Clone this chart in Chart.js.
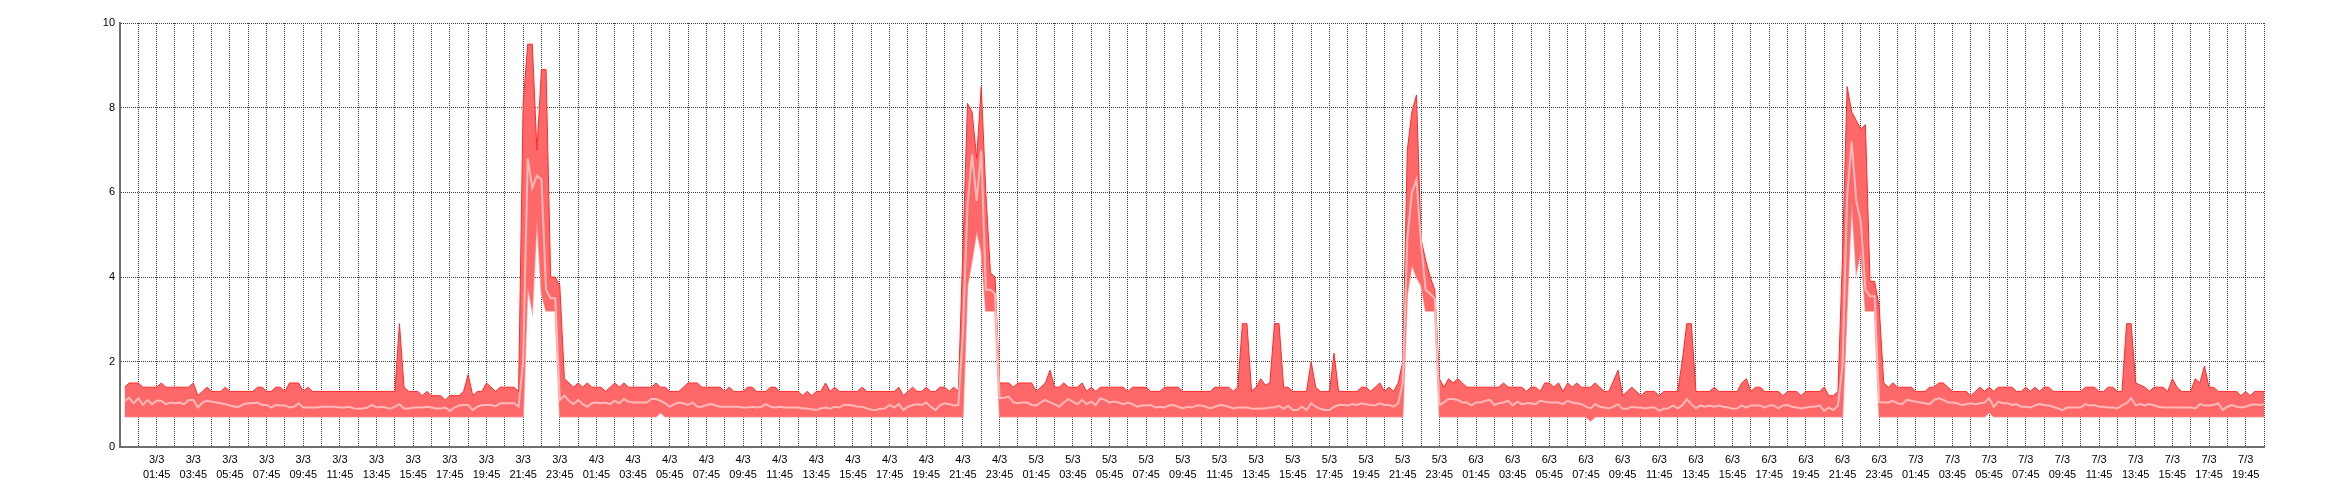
<!DOCTYPE html>
<html>
<head>
<meta charset="utf-8">
<script src="https://cdn.jsdelivr.net/npm/chart.js"></script>
<style>
html,body{margin:0;padding:0;background:#ffffff;}
#wrap{width:2340px;height:500px;}
</style>
</head>
<body>
<div id="wrap"><canvas id="c" width="2340" height="500"></canvas></div>
<script>
// 15-minute samples starting 2/3 23:45 (index 0) to 7/3 20:45 (index 468)
const maxValues = [null,
1.4,1.5,1.5,1.5,1.4,1.4,1.4,1.4,1.5,1.4,
1.4,1.4,1.4,1.4,1.4,1.5,1.2,1.3,1.4,1.3,
1.3,1.3,1.4,1.3,1.3,1.3,1.3,1.3,1.3,1.4,
1.4,1.3,1.3,1.4,1.4,1.3,1.5,1.5,1.5,1.3,
1.4,1.3,1.3,1.3,1.3,1.3,1.3,1.3,1.3,1.3,
1.3,1.3,1.3,1.3,1.3,1.3,1.3,1.3,1.3,1.3,
2.9,1.4,1.3,1.3,1.3,1.2,1.3,1.2,1.2,1.2,
1.1,1.2,1.2,1.2,1.3,1.7,1.2,1.3,1.3,1.5,
1.4,1.3,1.4,1.4,1.4,1.4,1.3,8.1,9.5,9.5,
7.0,8.9,8.9,4.0,4.0,3.8,1.6,1.5,1.4,1.5,
1.4,1.5,1.4,1.4,1.4,1.3,1.4,1.5,1.4,1.5,
1.4,1.4,1.4,1.4,1.4,1.4,1.5,1.4,1.4,1.3,
1.3,1.3,1.4,1.5,1.5,1.5,1.4,1.4,1.4,1.4,
1.4,1.3,1.4,1.3,1.3,1.3,1.4,1.4,1.3,1.3,
1.3,1.4,1.4,1.3,1.3,1.3,1.3,1.3,1.2,1.3,
1.2,1.3,1.3,1.5,1.3,1.4,1.3,1.3,1.3,1.3,
1.3,1.4,1.3,1.3,1.3,1.3,1.3,1.3,1.3,1.4,
1.2,1.3,1.4,1.3,1.3,1.4,1.3,1.3,1.4,1.4,
1.3,1.4,1.3,4.7,8.1,7.9,6.8,8.5,6.0,4.1,
4.0,1.5,1.5,1.5,1.4,1.5,1.5,1.5,1.5,1.3,
1.4,1.5,1.8,1.4,1.4,1.5,1.4,1.4,1.4,1.5,
1.3,1.4,1.3,1.4,1.4,1.4,1.4,1.4,1.4,1.3,
1.4,1.4,1.4,1.4,1.3,1.3,1.3,1.4,1.4,1.4,
1.4,1.3,1.3,1.3,1.3,1.3,1.3,1.3,1.4,1.4,
1.4,1.4,1.3,1.4,2.9,2.9,1.3,1.4,1.6,1.45,
1.5,2.9,2.9,1.4,1.4,1.3,1.3,1.3,1.3,2.0,
1.4,1.3,1.3,1.3,2.2,1.3,1.3,1.3,1.3,1.3,
1.4,1.4,1.3,1.4,1.5,1.3,1.4,1.3,1.5,2.0,
7.0,7.9,8.3,4.9,4.4,4.0,3.7,1.6,1.4,1.6,
1.5,1.6,1.5,1.4,1.4,1.4,1.4,1.4,1.4,1.4,
1.4,1.5,1.4,1.4,1.4,1.4,1.3,1.4,1.4,1.3,
1.5,1.5,1.4,1.5,1.3,1.5,1.4,1.5,1.4,1.4,
1.4,1.5,1.4,1.3,1.3,1.55,1.8,1.2,1.3,1.4,
1.3,1.2,1.3,1.3,1.3,1.2,1.3,1.3,1.3,1.3,
2.0,2.9,2.9,1.3,1.3,1.3,1.3,1.4,1.3,1.3,
1.3,1.3,1.3,1.5,1.6,1.3,1.4,1.4,1.3,1.3,
1.3,1.3,1.2,1.3,1.3,1.3,1.2,1.3,1.3,1.3,
1.3,1.4,1.2,1.2,1.3,4.5,8.5,7.9,7.7,7.5,
7.6,3.9,3.9,3.3,1.5,1.4,1.5,1.4,1.4,1.4,
1.4,1.3,1.3,1.3,1.4,1.4,1.5,1.5,1.4,1.3,
1.3,1.3,1.3,1.2,1.3,1.4,1.3,1.4,1.3,1.4,
1.4,1.4,1.4,1.3,1.3,1.4,1.3,1.4,1.3,1.4,
1.4,1.3,1.3,1.3,1.3,1.3,1.3,1.3,1.4,1.4,
1.4,1.3,1.3,1.4,1.4,1.3,1.3,2.9,2.9,1.5,
1.45,1.4,1.3,1.4,1.4,1.4,1.3,1.6,1.4,1.3,
1.3,1.3,1.6,1.5,1.9,1.4,1.4,1.3,1.3,1.3,
1.3,1.3,1.2,1.3,1.2,1.3,1.3,1.3];

const avgValues = [null,
1.08,1.15,1.02,1.14,0.98,1.1,1.0,1.08,1.08,1.0,
1.04,1.02,1.04,1.0,1.1,1.1,0.92,1.04,1.08,1.06,
1.04,1.02,1.0,0.97,0.94,0.94,1.0,1.02,1.02,1.04,
0.98,0.98,0.92,0.98,0.97,0.97,0.92,0.94,1.02,0.92,
0.92,0.92,0.92,0.94,0.94,0.94,0.94,0.92,0.92,0.94,
0.9,0.89,0.9,0.92,0.98,0.92,0.94,0.92,0.89,0.94,
1.0,0.9,0.9,0.92,0.92,0.92,0.94,0.92,0.9,0.9,
0.92,0.84,0.92,0.97,0.98,0.98,0.86,0.94,0.98,0.98,
0.98,0.95,1.02,1.02,1.02,1.02,0.94,2.0,6.8,6.1,
6.4,6.3,3.7,3.5,3.5,1.1,1.2,1.08,1.0,1.1,
1.0,0.94,1.02,1.04,1.02,1.04,1.0,1.08,1.02,1.12,
1.06,1.04,1.04,1.04,1.04,1.12,1.12,1.08,1.02,0.94,
1.0,1.04,1.02,0.98,1.04,0.94,0.94,0.98,1.0,0.97,
0.94,0.94,0.94,0.94,0.94,0.92,0.92,0.94,0.92,0.94,
1.0,0.94,0.92,0.94,0.92,0.92,0.92,0.92,0.9,0.9,
0.88,0.86,0.9,0.92,0.89,0.94,0.92,0.98,0.98,0.97,
0.94,0.94,0.9,0.87,0.86,0.89,0.9,0.98,0.92,1.0,
0.86,0.94,0.98,1.0,0.98,1.04,0.94,0.86,0.97,1.02,
1.0,0.97,0.98,2.7,5.7,6.9,5.8,7.0,3.7,3.7,
3.6,1.14,1.15,1.18,1.04,1.02,1.04,1.04,0.98,0.97,
1.04,1.1,1.04,1.0,0.94,1.04,1.12,1.06,1.0,1.1,
1.0,1.06,0.98,1.14,1.1,1.04,1.06,1.04,1.0,1.04,
1.0,0.94,0.97,0.97,0.98,0.92,0.94,0.92,0.97,0.98,
0.94,0.9,0.94,0.92,0.97,0.97,0.94,0.9,0.94,0.98,
0.97,0.94,0.9,0.92,0.92,0.92,0.9,0.89,0.9,0.9,
0.92,0.92,0.96,0.89,0.96,0.86,0.86,0.94,0.86,1.02,
0.94,0.89,0.86,0.86,0.94,0.98,0.98,0.97,1.0,0.98,
1.02,1.0,0.98,0.97,1.02,0.98,0.98,0.94,1.02,1.5,
4.9,6.0,6.3,4.8,3.7,3.6,3.5,0.98,1.04,1.12,
1.12,1.1,1.04,1.04,0.97,1.04,1.04,1.08,1.1,0.98,
1.02,1.04,1.08,0.97,1.06,1.0,1.02,1.02,1.0,1.08,
1.06,1.04,1.04,1.04,1.0,1.08,1.04,1.02,1.0,0.94,
0.9,1.0,0.94,0.92,0.9,0.94,1.0,0.89,0.89,0.94,
0.92,0.92,0.9,0.92,0.92,0.84,0.89,0.9,0.97,0.9,
0.97,1.12,1.0,0.9,0.97,0.94,0.97,0.94,0.97,0.94,
0.92,0.89,0.9,0.97,0.92,0.97,0.97,0.97,0.92,0.97,
0.97,0.9,0.97,0.98,0.94,0.92,0.9,0.92,0.94,0.94,
0.97,0.84,0.92,0.86,0.97,1.9,5.9,7.2,5.8,5.3,
3.7,3.55,3.55,1.05,1.04,1.04,1.08,1.02,1.0,1.1,
1.08,1.06,1.04,1.02,1.0,1.1,1.14,1.1,1.04,1.04,
1.02,0.98,1.0,1.02,1.0,1.02,1.04,1.14,0.94,1.06,
1.02,1.02,0.98,1.0,0.94,0.94,0.92,0.97,1.0,0.98,
0.97,0.94,0.9,0.86,0.92,0.92,0.92,0.92,1.0,0.97,
0.98,0.94,0.94,0.92,0.92,0.9,0.97,1.02,1.14,0.97,
1.0,0.97,1.0,0.97,0.94,0.92,0.92,0.92,0.92,0.92,
0.92,0.92,0.9,1.0,0.97,0.97,0.98,1.02,0.86,0.94,
0.98,0.94,0.92,0.94,0.98,1.0,0.98,1.0];

const minValues = [null,
0.7,0.7,0.7,0.7,0.7,0.7,0.7,0.7,0.7,0.7,
0.7,0.7,0.7,0.7,0.7,0.7,0.7,0.7,0.7,0.7,
0.7,0.7,0.7,0.7,0.7,0.7,0.7,0.7,0.7,0.7,
0.7,0.7,0.7,0.7,0.7,0.7,0.7,0.7,0.7,0.7,
0.7,0.7,0.7,0.7,0.7,0.7,0.7,0.7,0.7,0.7,
0.7,0.7,0.7,0.7,0.7,0.7,0.7,0.7,0.7,0.7,
0.7,0.7,0.7,0.7,0.7,0.7,0.7,0.7,0.7,0.7,
0.7,0.7,0.7,0.7,0.7,0.7,0.7,0.7,0.7,0.7,
0.7,0.7,0.7,0.7,0.7,0.7,0.7,0.7,3.8,3.2,
5.4,3.6,3.2,3.2,3.2,0.7,0.7,0.7,0.7,0.7,
0.7,0.7,0.7,0.7,0.7,0.7,0.7,0.7,0.7,0.7,
0.7,0.7,0.7,0.7,0.7,0.7,0.7,0.8,0.7,0.7,
0.7,0.7,0.7,0.7,0.7,0.7,0.7,0.7,0.7,0.7,
0.7,0.7,0.7,0.7,0.7,0.7,0.7,0.7,0.7,0.7,
0.7,0.7,0.7,0.7,0.7,0.7,0.7,0.7,0.7,0.7,
0.7,0.7,0.7,0.7,0.7,0.7,0.7,0.7,0.7,0.7,
0.7,0.7,0.7,0.7,0.7,0.7,0.7,0.7,0.7,0.7,
0.7,0.7,0.7,0.7,0.7,0.7,0.7,0.7,0.7,0.7,
0.7,0.7,0.7,0.7,3.8,4.4,5.1,4.6,3.2,3.2,
3.2,0.7,0.7,0.7,0.7,0.7,0.7,0.7,0.7,0.7,
0.7,0.7,0.7,0.7,0.7,0.7,0.7,0.7,0.7,0.7,
0.7,0.7,0.7,0.7,0.7,0.7,0.7,0.7,0.7,0.7,
0.7,0.7,0.7,0.7,0.7,0.7,0.7,0.7,0.7,0.7,
0.7,0.7,0.7,0.7,0.7,0.7,0.7,0.7,0.7,0.7,
0.7,0.7,0.7,0.7,0.7,0.7,0.7,0.7,0.7,0.7,
0.7,0.7,0.7,0.7,0.7,0.7,0.7,0.7,0.7,0.7,
0.7,0.7,0.7,0.7,0.7,0.7,0.7,0.7,0.7,0.7,
0.7,0.7,0.7,0.7,0.7,0.7,0.7,0.7,0.7,0.7,
3.6,4.3,4.0,3.8,3.2,3.2,3.2,0.7,0.7,0.7,
0.7,0.7,0.7,0.7,0.7,0.7,0.7,0.7,0.7,0.7,
0.7,0.7,0.7,0.7,0.7,0.7,0.7,0.7,0.7,0.7,
0.7,0.7,0.7,0.7,0.7,0.7,0.7,0.7,0.7,0.7,
0.6,0.7,0.7,0.7,0.7,0.7,0.7,0.7,0.7,0.7,
0.7,0.7,0.7,0.7,0.7,0.7,0.7,0.7,0.7,0.7,
0.7,0.7,0.7,0.7,0.7,0.7,0.7,0.7,0.7,0.7,
0.7,0.7,0.7,0.7,0.7,0.7,0.7,0.7,0.7,0.7,
0.7,0.7,0.7,0.7,0.7,0.7,0.7,0.7,0.7,0.7,
0.7,0.7,0.7,0.7,0.7,0.7,3.3,5.8,4.1,4.6,
3.2,3.2,3.2,0.7,0.7,0.7,0.7,0.7,0.7,0.7,
0.7,0.7,0.7,0.7,0.7,0.7,0.7,0.7,0.7,0.7,
0.7,0.7,0.7,0.7,0.7,0.7,0.7,0.8,0.7,0.7,
0.7,0.7,0.7,0.7,0.7,0.7,0.7,0.7,0.7,0.7,
0.7,0.7,0.7,0.7,0.7,0.7,0.7,0.7,0.7,0.7,
0.7,0.7,0.7,0.7,0.7,0.7,0.7,0.7,0.7,0.7,
0.7,0.7,0.7,0.7,0.7,0.7,0.7,0.7,0.7,0.7,
0.7,0.7,0.7,0.7,0.7,0.7,0.7,0.7,0.7,0.7,
0.7,0.7,0.7,0.7,0.7,0.7,0.7,0.7];

const yTickValues = [0, 2, 4, 6, 8, 10];

// Category labels: "d/3 HH:MM" every 15 minutes from 2/3 23:45
const categories = [];
for (let i = 0; i < maxValues.length; i++) {
  const t = 2 * 1440 + 23 * 60 + 45 + 15 * i;
  const d = Math.floor(t / 1440);
  const m = t % 1440;
  const hh = String(Math.floor(m / 60)).padStart(2, '0');
  const mm = String(m % 60).padStart(2, '0');
  categories.push(d + '/3 ' + hh + ':' + mm);
}
function minuteOfDay(i) {
  const s = categories[i].split(' ')[1];
  return parseInt(s.slice(0, 2), 10) * 60 + parseInt(s.slice(3), 10);
}
const isHourLine = i => minuteOfDay(i) % 60 === 45;
const isLabelTick = i => i > 0 && minuteOfDay(i) % 120 === 105;

const tickFont = { family: 'Liberation Sans', size: 11, lineHeight: 1.35 };
const gridColor = '#3c3c3c';

new Chart(document.getElementById('c'), {
  type: 'line',
  data: {
    labels: categories,
    datasets: [
      { label: 'avg', data: avgValues, borderColor: '#ffb9b9', borderWidth: 2, fill: false, pointRadius: 0 },
      { label: 'max', data: maxValues, borderColor: '#ff2b2b', borderWidth: 1, backgroundColor: '#ff6868', fill: '+1', pointRadius: 0 },
      { label: 'min', data: minValues, borderColor: '#ffa4a4', borderWidth: 1.5, fill: false, pointRadius: 0 }
    ]
  },
  options: {
    responsive: false,
    animation: false,
    devicePixelRatio: 1,
    layout: { padding: { left: 0, right: 76, top: 23, bottom: 0 } },
    plugins: { legend: { display: false }, tooltip: { enabled: false } },
    elements: { line: { tension: 0 }, point: { radius: 0 } },
    scales: {
      x: {
        type: 'category',
        offset: false,
        grid: {
          color: c => (isHourLine(c.index) ? gridColor : 'rgba(0,0,0,0)'),
          lineWidth: 1,
          drawTicks: false
        },
        border: { display: true, color: '#6e6e6e', width: 2, dash: [1, 1] },
        ticks: {
          autoSkip: false,
          maxRotation: 0,
          minRotation: 0,
          padding: 6,
          color: '#000000',
          font: tickFont,
          callback: function (value, index) {
            if (!isLabelTick(index)) return '';
            return categories[index].split(' ');
          }
        },
        afterFit: s => { s.height = 53.5; }
      },
      y: {
        min: 0,
        max: 10,
        afterBuildTicks: s => { s.ticks = yTickValues.map(v => ({ value: v })); },
        grid: { color: gridColor, lineWidth: 1, drawTicks: false },
        border: { display: true, color: '#6e6e6e', width: 2, dash: [1, 1] },
        ticks: { padding: 5, color: '#000000', font: tickFont },
        afterFit: s => { s.width = 120; }
      }
    }
  }
});
</script>
</body>
</html>
